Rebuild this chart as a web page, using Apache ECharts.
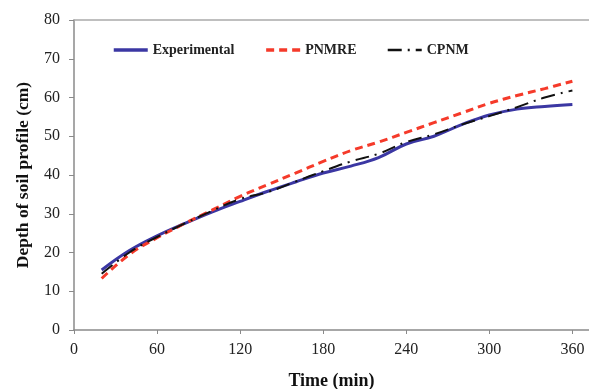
<!DOCTYPE html>
<html>
<head>
<meta charset="utf-8">
<script src="https://cdn.jsdelivr.net/npm/echarts@6/dist/echarts.min.js"></script>
<style>
  html, body { margin: 0; padding: 0; background: #fff; }
  #chart { width: 589px; height: 389px; }
</style>
</head>
<body>
<div id="chart"></div>
<script>
// time (min)
const times = [20, 40, 60, 80, 100, 120, 140, 160, 180, 200, 220, 240, 260, 280, 300, 320, 340, 360];
// depth of soil profile (cm)
const experimental = [15.5, 20.5, 24.3, 27.5, 30.5, 33.2, 35.8, 38.2, 40.5, 42.3, 44.5, 48, 50, 53, 55.5, 57, 57.7, 58.2];
const pnmre = [13.3, 19.5, 23.8, 27.5, 31, 34.5, 37.5, 40.5, 43.5, 46.3, 48.5, 51, 53.5, 56, 58.5, 60.5, 62.3, 64.2];
const cpnm = [14.5, 20, 24, 27.5, 30.8, 33.8, 35.6, 38.3, 41, 43.5, 45.5, 48.5, 50.5, 53, 55.2, 57.5, 60, 61.8];

const pairs = (ys) => times.map((t, i) => [t, ys[i]]);

const chart = echarts.init(document.getElementById('chart'));
const serif = 'Liberation Serif';
const axisGray = '#8a8a8a';

const option = {
  animation: false,
  backgroundColor: '#fff',
  textStyle: { fontFamily: serif },
  grid: { left: 74, top: 20, right: 0, bottom: 59, outerBoundsMode: 'none' },
  legend: {
    top: 38,
    left: 107,
    itemWidth: 34,
    itemHeight: 12,
    itemGap: 30,
    itemStyle: { opacity: 0 },
    textStyle: { fontFamily: serif, fontWeight: 'bold', fontSize: 14, color: '#222' },
    data: [
      { name: 'Experimental', lineStyle: { width: 3.5 } },
      { name: 'PNMRE', lineStyle: { width: 3.5 } },
      { name: 'CPNM', lineStyle: { width: 2.5 } }
    ]
  },
  xAxis: [
    {
      type: 'value',
      min: 0,
      max: 372,
      interval: 60,
      name: 'Time (min)',
      nameLocation: 'middle',
      nameGap: 42,
      nameTextStyle: { fontFamily: serif, fontWeight: 'bold', fontSize: 18, color: '#111' },
      axisLine: { lineStyle: { color: axisGray, width: 1.5 } },
      axisTick: { show: true, length: 4, lineStyle: { color: axisGray } },
      axisLabel: { fontFamily: serif, fontSize: 16, color: '#222', margin: 12, showMaxLabel: false },
      splitLine: { show: false }
    },
    {
      type: 'value',
      position: 'top',
      min: 0,
      max: 372,
      axisLine: { show: true, lineStyle: { color: '#aaa', width: 1.5 } },
      axisTick: { show: false },
      axisLabel: { show: false },
      splitLine: { show: false }
    }
  ],
  yAxis: {
    type: 'value',
    min: 0,
    max: 80,
    interval: 10,
    name: 'Depth of soil profile (cm)',
    nameLocation: 'middle',
    nameGap: 42,
    nameTextStyle: { fontFamily: serif, fontWeight: 'bold', fontSize: 17.5, color: '#111' },
    axisLine: { show: true, lineStyle: { color: axisGray, width: 1.5 } },
    axisTick: { show: true, length: 5, lineStyle: { color: axisGray } },
    axisLabel: { fontFamily: serif, fontSize: 16, color: '#222', margin: 14 },
    splitLine: { show: false }
  },
  series: [
    {
      name: 'Experimental',
      type: 'line',
      smooth: 0.4,
      symbol: 'none',
      data: pairs(experimental),
      itemStyle: { color: '#3b37a3' },
      lineStyle: { color: '#3b37a3', width: 3 },
      z: 3
    },
    {
      name: 'PNMRE',
      type: 'line',
      smooth: 0.4,
      symbol: 'none',
      data: pairs(pnmre),
      itemStyle: { color: '#f53a2a' },
      lineStyle: { color: '#f53a2a', width: 3, type: [8, 5] },
      z: 4
    },
    {
      name: 'CPNM',
      type: 'line',
      smooth: 0.4,
      symbol: 'none',
      data: pairs(cpnm),
      itemStyle: { color: '#111' },
      lineStyle: { color: '#111', width: 2, type: [14, 6, 2, 6] },
      z: 5
    }
  ]
};

chart.setOption(option);
</script>
</body>
</html>
